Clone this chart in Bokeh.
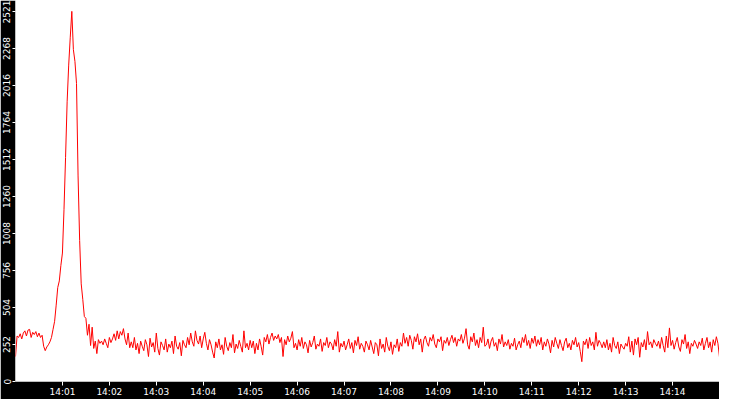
from datetime import datetime, timedelta
from bokeh.plotting import figure
from bokeh.models import Range1d, FixedTicker, DatetimeTickFormatter
from bokeh.embed import file_html
from bokeh.resources import INLINE

# ---- data (one sample every ~2 s) ----
start_time = datetime(2024, 1, 1, 14, 0, 0)
end_time = datetime(2024, 1, 1, 14, 15, 0)

seg_start = [170, 310, 300, 325, 290, 330, 345, 310, 350, 355, 300, 335, 320, 340, 305,
             330, 300, 315, 240, 210, 235, 250, 270, 300, 355]
seg_peak = [410, 520, 640, 685, 790, 875, 1170, 1525, 1905, 2155, 2345, 2521, 2260, 2180,
            2030, 1400, 960, 665, 560, 443, 430]
seg_after = [315, 390, 245, 370, 225, 275, 190, 285, 260, 275, 250, 290, 260, 230, 300,
             265, 290, 325, 280, 345, 290, 340, 315, 360, 290, 250, 330, 230, 270]
seg_b = [230, 300, 215, 260, 190, 275, 240, 210, 285, 250, 170, 295, 235, 265, 200, 330,
         225, 180, 270, 245, 215, 290, 200, 255, 230, 275, 190, 310, 240, 220, 265, 175,
         280, 250, 230,
         300, 250, 330, 270, 240, 345, 280, 255, 310, 230, 290, 335, 260, 215, 285, 250,
         200, 160, 270, 230, 290, 215, 250, 185, 300, 240, 210, 265, 230, 320, 195, 255,
         225, 280, 240, 200, 345, 230, 260, 215, 280]
seg_c = [230, 275, 190, 260, 215, 290, 240, 180, 300,
         270, 320, 255, 300, 330, 280, 310, 290, 320, 265, 300, 170, 285, 250, 310, 270,
         295, 340, 230,
         260, 215, 285, 240, 300, 225, 270, 250, 195, 280, 235, 265, 310, 220, 255, 240,
         290, 205, 265, 245, 300, 230, 270, 255, 215, 285, 240, 340, 200, 260, 235, 275,
         215, 250, 290, 225, 265, 195, 280, 245, 305, 220, 260, 240, 200, 275, 250]
seg_d = [215, 280, 235, 190, 265, 250, 175, 290, 225, 255, 200, 300, 240, 210, 270, 185,
         250, 230, 290, 205, 265, 240,
         330, 260, 300, 240, 315, 280, 220, 305, 270, 325, 250, 290, 200, 285, 310, 265,
         240, 300, 275, 320, 255, 230, 290, 270, 305, 210, 280, 260, 300, 245, 285, 315,
         265, 300, 240, 290, 275, 320, 260, 295, 360, 250, 220, 305, 270, 330, 245, 285,
         230, 300, 265, 370, 240]
seg_e = [250, 290, 225, 275, 300, 240, 265, 210, 290, 255, 320, 235, 270, 245, 285, 220,
         260, 240, 295, 215, 250, 275, 230, 300, 265, 320, 245, 280, 225, 295, 260, 310,
         240, 285, 250, 300, 215, 270, 240, 290, 255, 195, 280, 235, 300, 260, 225, 285,
         245, 210, 270, 295, 230, 260, 215, 280, 250, 300, 235, 265, 205, 135, 275, 250,
         290, 225, 300, 245, 270, 215, 335, 240, 280, 260, 230]
seg_f = [270, 230, 285, 215, 260, 200, 300, 245, 225, 270, 190, 255, 235, 220, 260, 240,
         305, 200, 275, 180, 290, 250, 300, 165, 265, 235, 285, 215, 340, 250, 270, 230,
         285, 260, 240, 275, 225, 300, 245, 200, 310, 230, 365, 245, 280, 220, 265, 300,
         235, 205, 285, 255, 320, 225, 270, 190, 260, 240, 280, 255, 225, 270, 245, 295,
         215, 260, 300, 230, 270, 200, 285, 245, 305, 260, 165]

y_ticks = [0, 252, 504, 756, 1008, 1260, 1512, 1764, 2016, 2268, 2521]
x_tick_labels = ["14:01", "14:02", "14:03", "14:04", "14:05", "14:06", "14:07",
                 "14:08", "14:09", "14:10", "14:11", "14:12", "14:13", "14:14"]

values = seg_start + seg_peak + seg_after + seg_b + seg_c + seg_d + seg_e + seg_f
n = len(values)
span = (end_time - start_time).total_seconds()
times = [start_time + timedelta(seconds=span * i / (n - 1)) for i in range(n)]

epoch = datetime(1970, 1, 1)
x_tick_ms = []
for lab in x_tick_labels:
    hh, mm = lab.split(":")
    t = start_time.replace(hour=int(hh), minute=int(mm))
    x_tick_ms.append((t - epoch).total_seconds() * 1000.0)

W, H = 719, 399
LEFT, BOTTOM = 15, 16
Y_TOP = 2595   # small headroom so the top tick label ("2521") stays fully visible

# ---- figure ----
p = figure(width=W, height=H, output_backend="svg", toolbar_location=None,
           x_axis_type="datetime",
           x_range=Range1d(start_time, end_time), y_range=Range1d(0, Y_TOP),
           min_border_left=LEFT, min_border_bottom=BOTTOM, min_border_top=0,
           min_border_right=0)
p.border_fill_color = "black"
p.background_fill_color = "white"
p.outline_line_color = None
p.xgrid.visible = False
p.ygrid.visible = False

p.line(times, values, line_color="#ff0000", line_width=1)

xa = p.xaxis[0]
xa.ticker = FixedTicker(ticks=x_tick_ms)
xa.formatter = DatetimeTickFormatter(seconds="%H:%M", minsec="%H:%M", minutes="%H:%M",
                                     hourmin="%H:%M", hours="%H:%M")
xa.axis_line_color = None
xa.major_tick_line_color = "white"
xa.major_tick_out = 4
xa.major_tick_in = 0
xa.minor_tick_line_color = None
xa.major_label_text_color = "white"
xa.major_label_text_font = "DejaVu Sans"
xa.major_label_text_font_size = "9px"
xa.major_label_standoff = 1

ya = p.yaxis[0]
ya.ticker = FixedTicker(ticks=y_ticks)
ya.axis_line_color = None
ya.major_tick_line_color = "white"
ya.major_tick_out = 3
ya.major_tick_in = 0
ya.minor_tick_line_color = None
ya.major_label_text_color = "white"
ya.major_label_text_font = "DejaVu Sans"
ya.major_label_text_font_size = "9px"
ya.major_label_standoff = 2
ya.major_label_orientation = "vertical"

open("out.html", "w").write(file_html(p, INLINE))
